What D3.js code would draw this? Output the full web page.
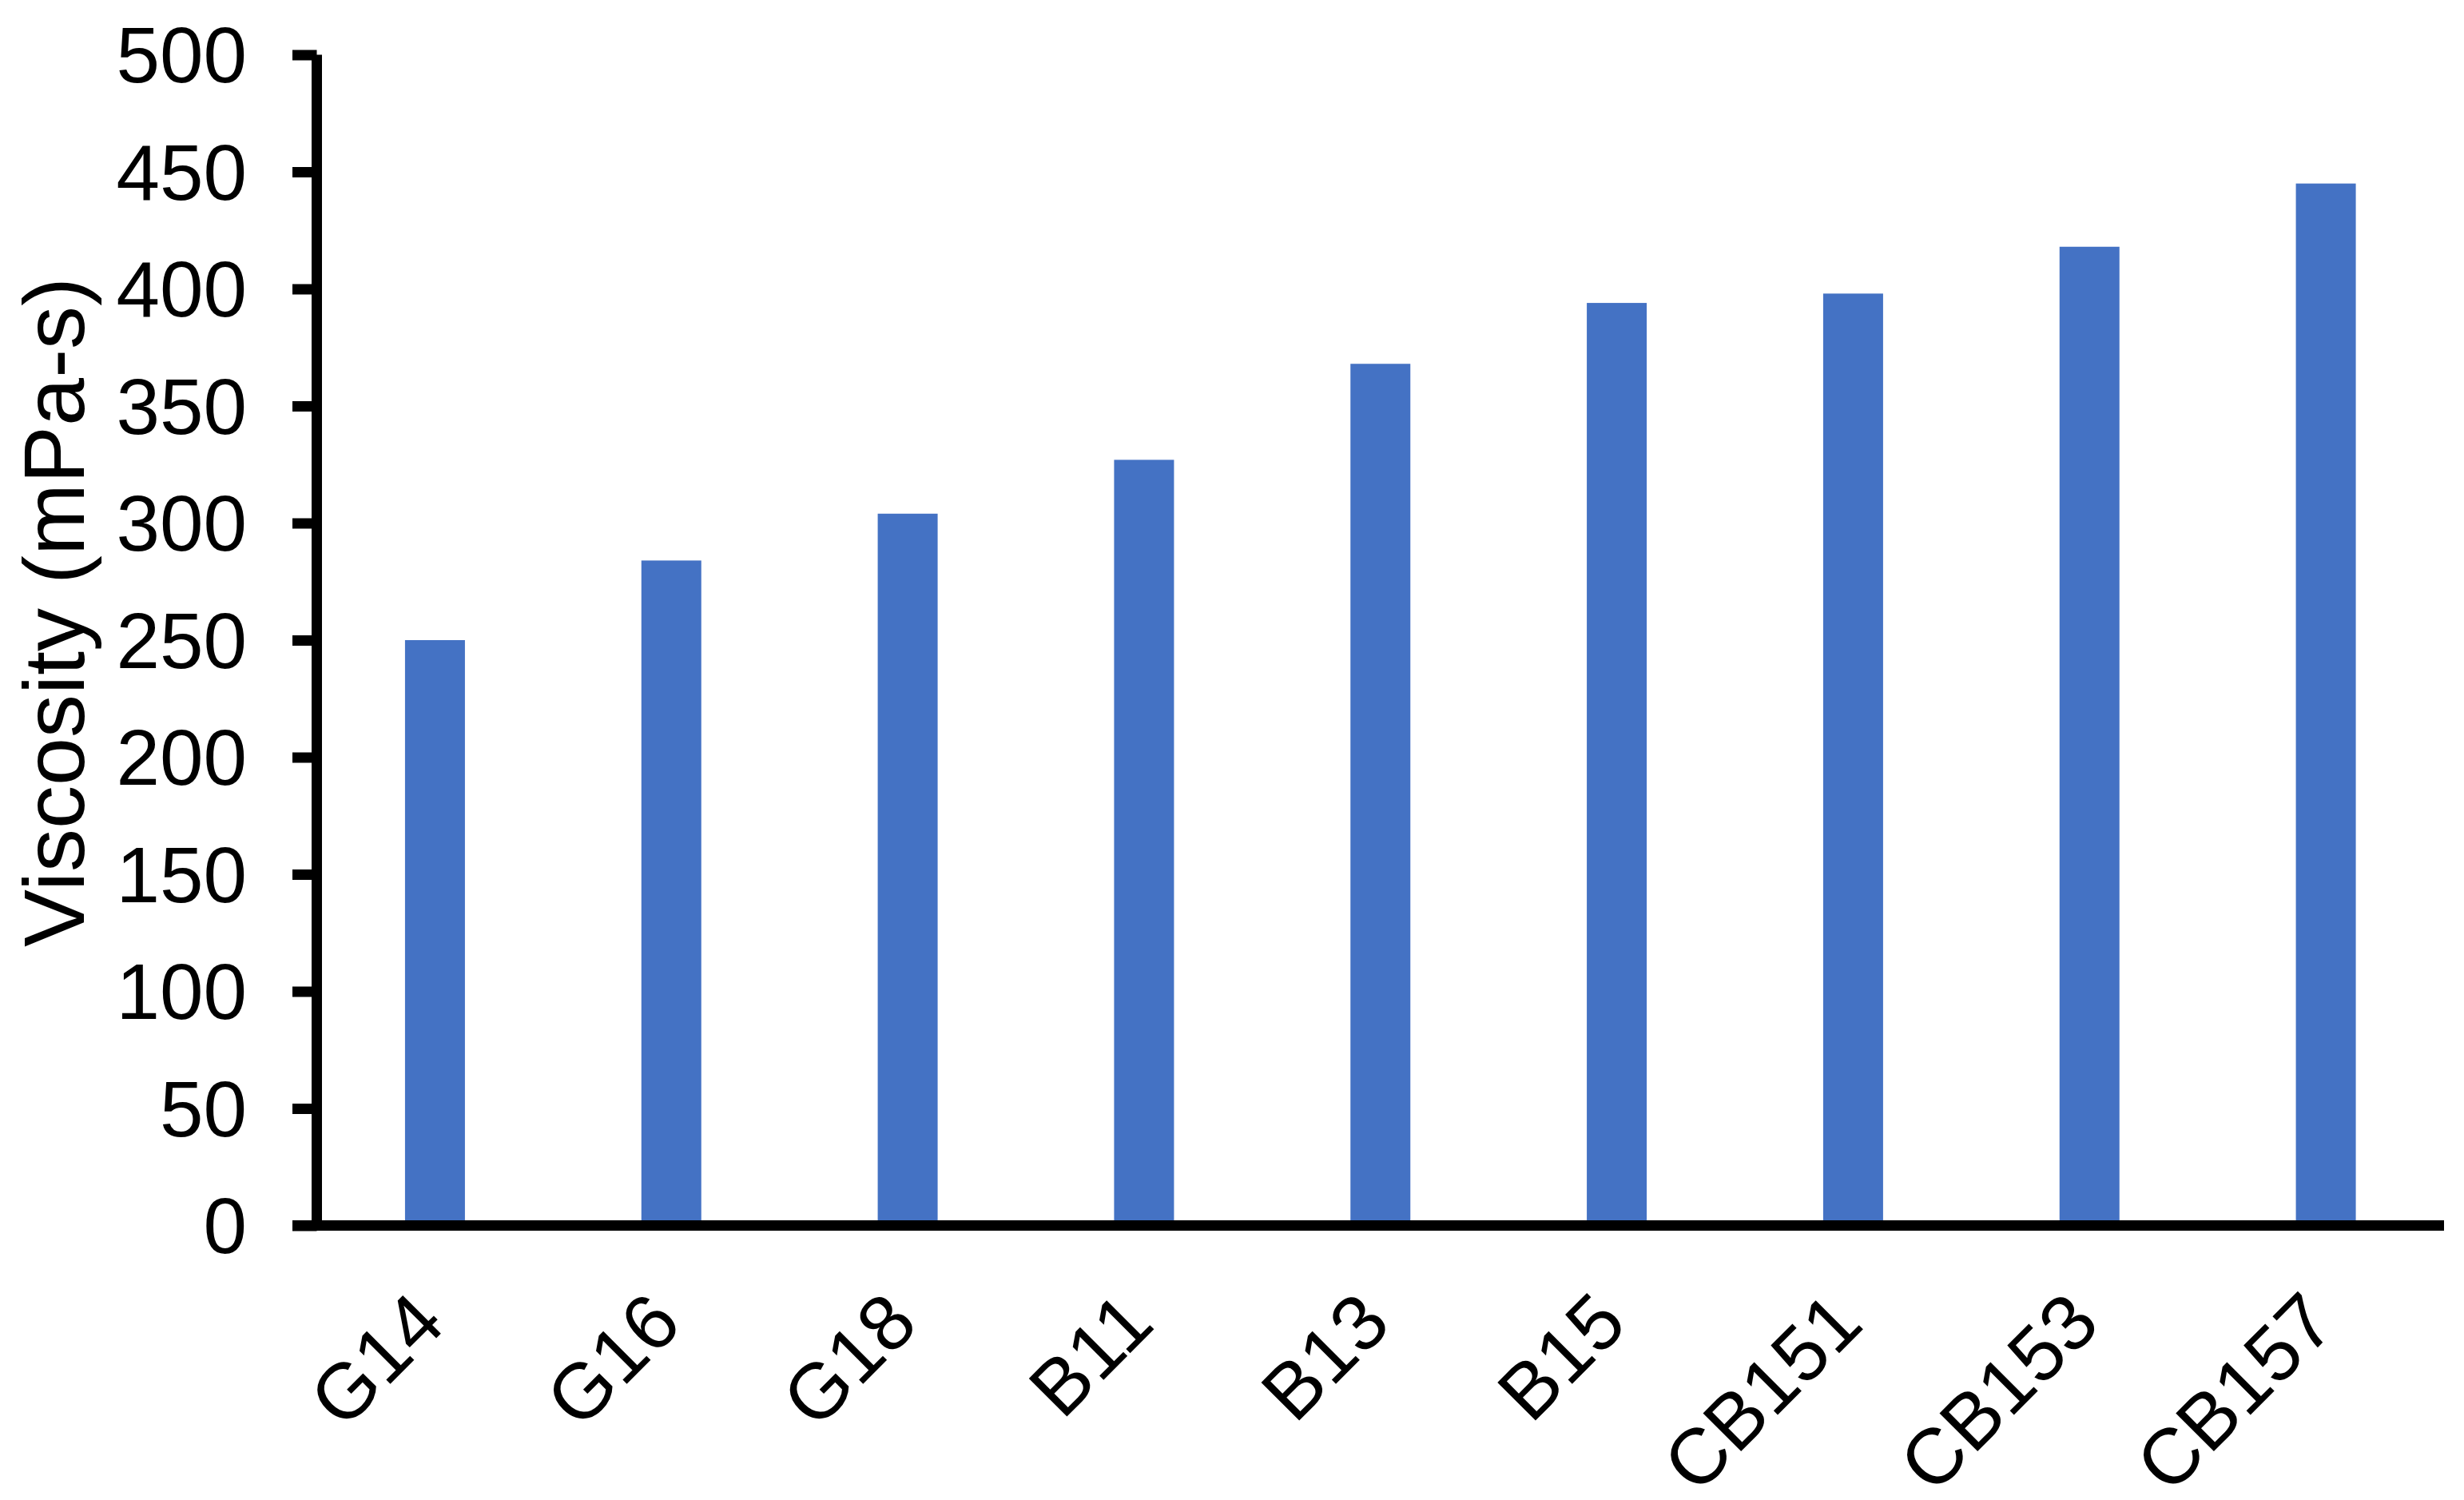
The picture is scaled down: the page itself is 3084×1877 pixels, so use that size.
<!DOCTYPE html>
<html>
<head>
<meta charset="utf-8">
<script src="https://cdn.jsdelivr.net/npm/d3@7"></script>
<style>
  body { margin: 0; background: #fff; }
  text { font-family: "Liberation Sans", Arial, sans-serif; fill: #000; }
</style>
</head>
<body>
<script>
const categories = ["G14", "G16", "G18", "B11", "B13", "B15", "CB151", "CB153", "CB157"];
const viscosity = [250, 284, 304, 327, 368, 394, 398, 418, 445];
const yTicks = [0, 50, 100, 150, 200, 250, 300, 350, 400, 450, 500];
const yTitle = "Viscosity (mPa-s)";

const width = 3084, height = 1877;
const plotLeft = 396.5, plotRight = 3059, plotTop = 68.5, plotBottom = 1533.5;

const svg = d3.create("svg")
    .attr("width", width)
    .attr("height", height)
    .attr("viewBox", [0, 0, width, height]);

svg.append("rect").attr("width", width).attr("height", height).attr("fill", "#fff");

document.body.appendChild(svg.node());

const x = d3.scaleBand()
    .domain(categories)
    .range([plotLeft, plotRight])
    .padding(0);

const y = d3.scaleLinear()
    .domain([0, 500])
    .range([plotBottom, plotTop]);

const barW = x.bandwidth() * 0.2535;

// bars
svg.append("g")
    .selectAll("rect")
    .data(categories)
    .join("rect")
    .attr("x", (d) => x(d) + x.bandwidth() / 2 - barW / 2)
    .attr("y", (d, i) => y(viscosity[i]))
    .attr("width", barW)
    .attr("height", (d, i) => y(0) - y(viscosity[i]) - 6.5)
    .attr("fill", "#4472C4");

// y axis
const yAxis = svg.append("g")
    .attr("transform", `translate(${plotLeft},0)`)
    .call(d3.axisLeft(y).tickValues(yTicks).tickSize(30.5).tickSizeOuter(0).tickPadding(57));

yAxis.select(".domain").remove();
yAxis.selectAll(".tick line").attr("stroke", "#000").attr("stroke-width", 13);
yAxis.selectAll(".tick text")
    .attr("font-size", 98)
    .attr("font-family", "Liberation Sans, Arial, sans-serif")
    .attr("dy", "0.35em");

svg.append("line")
    .attr("x1", plotLeft).attr("x2", plotLeft)
    .attr("y1", y(500)).attr("y2", y(0) + 6.5)
    .attr("stroke", "#000").attr("stroke-width", 13);

// x axis line
svg.append("line")
    .attr("x1", plotLeft - 30.5).attr("x2", plotRight)
    .attr("y1", y(0)).attr("y2", y(0))
    .attr("stroke", "#000").attr("stroke-width", 13);

// x labels
svg.append("g")
    .selectAll("text")
    .data(categories)
    .join("text")
    .attr("transform", (d) => `translate(${x(d) + x.bandwidth() / 2 + 16},1660) rotate(-45)`)
    .attr("text-anchor", "end")
    .attr("font-size", 98)
    .text((d) => d);

// y title
svg.append("text")
    .attr("transform", "translate(67,766) rotate(-90)")
    .attr("text-anchor", "middle")
    .attr("dy", "0.35em")
    .attr("font-size", 108)
    .text(yTitle);
</script>
</body>
</html>
